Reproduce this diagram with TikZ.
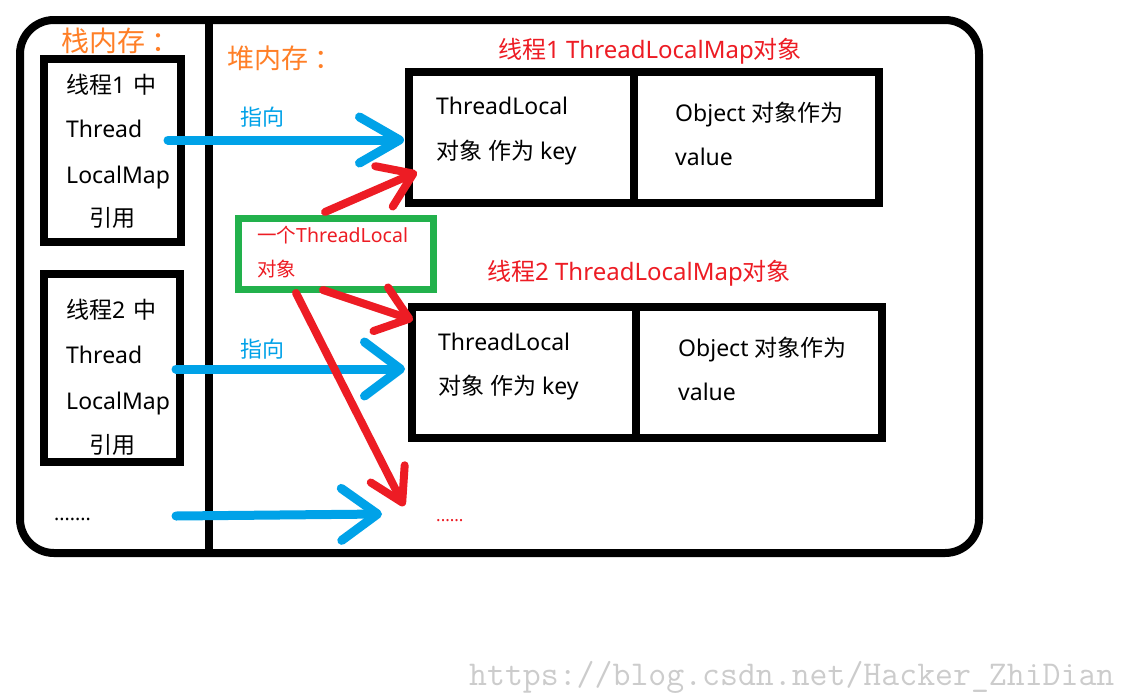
\documentclass[tikz,border=0pt]{standalone}
\usepackage{fontspec}
\setmainfont{Noto Sans}
\newfontfamily\cjk{Noto Sans CJK SC}
\usetikzlibrary{arrows.meta}
\definecolor{pblue}{HTML}{00A2E8}
\definecolor{pred}{HTML}{ED1C24}
\definecolor{pgreen}{HTML}{22B14C}
\definecolor{porange}{HTML}{FF7F27}
\newcommand{\zh}[1]{{\cjk #1}}
\tikzset{
  frame/.style={draw=black, line width=8},
  blk/.style={draw=black, line width=8, inner sep=0, rectangle},
  gbox/.style={draw=pgreen, line width=7, inner sep=0, rectangle},
  txt/.style={anchor=base west, inner sep=0, font=\fontsize{23}{26}\selectfont},
  ctxt/.style={anchor=base, inner sep=0, font=\fontsize{23}{26}\selectfont},
  bluearrow/.style={draw=pblue, line width=9, line cap=round},
  redarrow/.style={draw=pred, line width=8, line cap=round},
}
\begin{document}
\begin{tikzpicture}[x=1pt,y=-1pt]
\useasboundingbox (0,0) rectangle (1123,696);
\fill[white] (0,0) rectangle (1123,696);

% outer frame and divider
\draw[frame, rounded corners=34] (20,20) rectangle (979,553);
\draw[frame] (209,18) -- (209,557);

% stack boxes
\node[blk, minimum width=137, minimum height=183] (s1) at (112.5,150.5) {};
\node[blk, minimum width=136, minimum height=188] (s2) at (112,368) {};

% heap boxes
\node[blk, minimum width=470, minimum height=131] (h1) at (643.5,137.5) {};
\draw[frame] (634,70) -- (634,205);
\node[blk, minimum width=470, minimum height=131] (h2) at (646.5,372.5) {};
\draw[frame] (636,305) -- (636,440);

% green box
\node[gbox, minimum width=195, minimum height=71] (g) at (335.5,254) {};

% headings
\node[txt, text=porange, font=\fontsize{28}{30}\selectfont] (st) at (61,51) {\zh{栈内存}\hspace{6pt}\zh{：}};
\node[txt, text=porange, font=\fontsize{27}{30}\selectfont] (ht) at (227,68) {\zh{堆内存}\hspace{6pt}\zh{：}};
\node[txt, text=pred, font=\fontsize{24}{26}\selectfont] (t1) at (498,58) {\zh{线程}1 ThreadLocalMap\zh{对象}};
\node[txt, text=pred, font=\fontsize{24}{26}\selectfont] (t2) at (487,280) {\zh{线程}2 ThreadLocalMap\zh{对象}};

% stack box 1 texts
\node[txt] (a1) at (66,93) {\zh{线程}1\hspace{8pt}\zh{中}};
\node[txt] (a2) at (66,137) {Thread};
\node[txt] (a3) at (66,183) {LocalMap};
\node[ctxt] (a4) at (112,226) {\zh{引用}};
% stack box 2 texts
\node[txt] (b1) at (66,318) {\zh{线程}2\hspace{8pt}\zh{中}};
\node[txt] (b2) at (66,363) {Thread};
\node[txt] (b3) at (66,409) {LocalMap};
\node[ctxt] (b4) at (112,453) {\zh{引用}};

% heap box 1 texts
\node[txt] (k1) at (436,114) {ThreadLocal};
\node[txt] (k2) at (436,159) {\zh{对象} \zh{作为} key};
\node[txt] (v1) at (675,121) {Object \zh{对象作为}};
\node[txt] (v2) at (675,165) {value};
% heap box 2 texts
\node[txt] (k3) at (438,350) {ThreadLocal};
\node[txt] (k4) at (438,394) {\zh{对象} \zh{作为} key};
\node[txt] (v3) at (678,356) {Object \zh{对象作为}};
\node[txt] (v4) at (678,400) {value};

% green box text
\node[txt, text=pred, font=\fontsize{19.5}{22}\selectfont] (gt1) at (257,242) {\zh{一个}ThreadLocal};
\node[txt, text=pred, font=\fontsize{19.5}{22}\selectfont] (gt2) at (257,276) {\zh{对象}};

% labels
\node[txt, text=pblue, font=\fontsize{22}{26}\selectfont] (p1) at (240,125) {\zh{指向}};
\node[txt, text=pblue, font=\fontsize{22}{26}\selectfont] (p2) at (240,357) {\zh{指向}};
\node[txt, font=\fontsize{19.5}{22}\selectfont] (d1) at (54,520) {.......};
\node[txt, text=pred, font=\fontsize{17}{20}\selectfont] (d2) at (436,521) {......};

% watermark
\node[anchor=base west, inner sep=0, text=black!20, font=\ttfamily\fontsize{34.8}{36}\selectfont] (wm) at (469,685) {https://blog.csdn.net/Hacker\_ZhiDian};

% connector end points
\coordinate (b1s) at (168,140);
\coordinate (b1e) at (404,140);
\coordinate (b2s) at (176,369);
\coordinate (b2e) at (405,369);
\coordinate (b3s) at (176,516);
\coordinate (b3e) at (382,514);
\coordinate (r1s) at (325,212);
\coordinate (r1e) at (417,172);
\coordinate (r2s) at (323,290);
\coordinate (r2e) at (413,320);
\coordinate (r3s) at (296,293);
\coordinate (r3e) at (404,506);

% blue arrows
\draw[bluearrow, -{Straight Barb[length=40, width=46, round]}] (b1s) -- (b1e);
\draw[bluearrow, -{Straight Barb[length=36, width=54, round]}] (b2s) -- (b2e);
\draw[bluearrow, -{Straight Barb[length=36, width=52, round]}] (b3s) -- (b3e);

% red arrows
\draw[redarrow, -{Straight Barb[length=32, width=44, round]}] (r1s) -- (r1e);
\draw[redarrow, -{Straight Barb[length=30, width=46, round]}] (r2s) -- (r2e);
\draw[redarrow, -{Straight Barb[length=32, width=38, round]}] (r3s) -- (r3e);
\end{tikzpicture}
\end{document}
